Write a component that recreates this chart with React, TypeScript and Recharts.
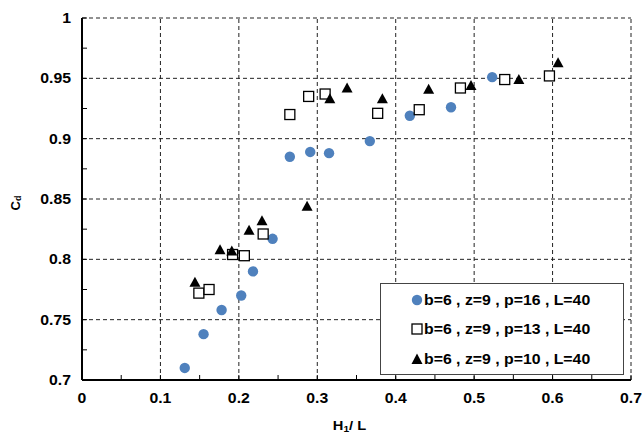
import React from 'react';
import { ScatterChart, Scatter, XAxis, YAxis, ReferenceLine } from 'recharts';

const seriesP16 = [
  { x: 0.131, y: 0.710 }, { x: 0.155, y: 0.738 }, { x: 0.178, y: 0.758 }, { x: 0.203, y: 0.770 },
  { x: 0.218, y: 0.790 }, { x: 0.243, y: 0.817 }, { x: 0.265, y: 0.885 }, { x: 0.291, y: 0.889 },
  { x: 0.315, y: 0.888 }, { x: 0.367, y: 0.898 }, { x: 0.418, y: 0.919 }, { x: 0.4705, y: 0.926 },
  { x: 0.523, y: 0.951 },
];
const seriesP13 = [
  { x: 0.149, y: 0.772 }, { x: 0.162, y: 0.775 }, { x: 0.192, y: 0.804 }, { x: 0.207, y: 0.803 },
  { x: 0.231, y: 0.821 }, { x: 0.265, y: 0.920 }, { x: 0.289, y: 0.935 }, { x: 0.310, y: 0.937 },
  { x: 0.377, y: 0.921 }, { x: 0.430, y: 0.924 }, { x: 0.4825, y: 0.942 }, { x: 0.539, y: 0.949 },
  { x: 0.596, y: 0.952 },
];
const seriesP10 = [
  { x: 0.144, y: 0.781 }, { x: 0.176, y: 0.808 }, { x: 0.191, y: 0.807 }, { x: 0.213, y: 0.824 },
  { x: 0.2295, y: 0.832 }, { x: 0.287, y: 0.844 }, { x: 0.316, y: 0.933 }, { x: 0.338, y: 0.942 },
  { x: 0.383, y: 0.933 }, { x: 0.442, y: 0.941 }, { x: 0.496, y: 0.944 }, { x: 0.557, y: 0.949 },
  { x: 0.607, y: 0.963 },
];

const xTicks = [0, 0.05, 0.1, 0.15, 0.2, 0.25, 0.3, 0.35, 0.4, 0.45, 0.5, 0.55, 0.6, 0.65, 0.7];
const xMajor = [0, 0.1, 0.2, 0.3, 0.4, 0.5, 0.6, 0.7];
const yTicks = [0.7, 0.725, 0.75, 0.775, 0.8, 0.825, 0.85, 0.875, 0.9, 0.925, 0.95, 0.975, 1];
const yMajor = [0.7, 0.75, 0.8, 0.85, 0.9, 0.95, 1];
const xGrid = [0.1, 0.2, 0.3, 0.4, 0.5, 0.6, 0.7];
const yGrid = [0.75, 0.8, 0.85, 0.9, 0.95, 1];

const legendLabels = ['b=6 , z=9 , p=16 , L=40', 'b=6 , z=9 , p=13 , L=40', 'b=6 , z=9 , p=10 , L=40'];

const FONT = '"Liberation Sans", Arial, sans-serif';
const BLUE = '#4F81BD';
const SX = 1.13;

const isMajor = (v: number, list: number[]) => list.some((m) => Math.abs(m - v) < 1e-6);
const fmt = (v: number) => String(Math.round(v * 100) / 100);

const XTick = (props: any) => {
  const { x, y, payload } = props;
  const v = payload.value;
  return (
    <g>
      <line x1={x} x2={x} y1={y} y2={y - 5} stroke="#000" strokeWidth={1} />
      {isMajor(v, xMajor) && (
        <text transform={`translate(${x},${y + 18}) scale(${SX},1)`} textAnchor="middle" dominantBaseline="central"
          fontFamily={FONT} fontWeight="bold" fontSize={14} fill="#000">{fmt(v)}</text>
      )}
    </g>
  );
};

const YTick = (props: any) => {
  const { x, y, payload } = props;
  const v = payload.value;
  return (
    <g>
      <line x1={x} x2={x + 5} y1={y} y2={y} stroke="#000" strokeWidth={1} />
      {isMajor(v, yMajor) && (
        <text transform={`translate(${x - 11},${y}) scale(${SX},1)`} textAnchor="end" dominantBaseline="central"
          fontFamily={FONT} fontWeight="bold" fontSize={14} fill="#000">{fmt(v)}</text>
      )}
    </g>
  );
};

const Circle = (props: any) => <circle cx={props.cx} cy={props.cy} r={5.2} fill={BLUE} />;
const Square = (props: any) => (
  <rect x={props.cx - 5} y={props.cy - 5} width={10} height={10} fill="#fff" stroke="#000" strokeWidth={1.3} />
);
const Tri = (props: any) => (
  <polygon points={`${props.cx},${props.cy - 5.5} ${props.cx - 5.5},${props.cy + 4.5} ${props.cx + 5.5},${props.cy + 4.5}`} fill="#000" />
);

const LegendBox = () => {
  const icons = [
    <svg width={12} height={12}><circle cx={6} cy={6} r={5.2} fill={BLUE} /></svg>,
    <svg width={12} height={12}><rect x={1} y={1} width={10} height={10} fill="#fff" stroke="#000" strokeWidth={1.3} /></svg>,
    <svg width={12} height={12}><polygon points="6,0.5 0.5,11 11.5,11" fill="#000" /></svg>,
  ];
  return (
    <div style={{ position: 'absolute', left: 380, top: 283, width: 244, height: 92, boxSizing: 'border-box',
      border: '1px solid #444', background: '#fff', paddingTop: 1 }}>
      {legendLabels.map((t, i) => (
        <div key={i} style={{ display: 'flex', alignItems: 'center', height: 29.5, paddingLeft: 30 }}>
          {icons[i]}
          <span style={{ display: 'inline-block', transform: `scaleX(${SX})`, transformOrigin: 'left center', marginLeft: 1,
            fontFamily: FONT, fontWeight: 'bold', fontSize: 14, color: '#000', whiteSpace: 'nowrap' }}>{t}</span>
        </div>
      ))}
    </div>
  );
};

const XLabel = (props: any) => {
  const vb = props.viewBox || { x: 82, y: 380, width: 549 };
  const cx = vb.x + vb.width / 2 - 7;
  return (
    <text transform={`translate(${cx},${vb.y + 45}) scale(${SX},1)`} textAnchor="middle" dominantBaseline="central"
      fontFamily={FONT} fontWeight="bold" fontSize={13} fill="#000">
      H<tspan fontSize={9} dy={3}>1</tspan><tspan dy={-3}>/ L</tspan>
    </text>
  );
};

const YLabel = (props: any) => {
  const vb = props.viewBox || { x: 0, y: 18, height: 362 };
  const cy = vb.y + vb.height / 2 + 4;
  return (
    <text transform={`translate(15,${cy}) rotate(-90)`} textAnchor="middle" dominantBaseline="central"
      fontFamily={FONT} fontWeight="bold" fontSize={13} fill="#000">
      C<tspan fontSize={9} dy={3}>d</tspan>
    </text>
  );
};

export default function App() {
  return (
    <div style={{ position: 'absolute', left: 0, top: 0, width: 643, height: 434, background: '#fff' }}>
      <ScatterChart width={643} height={434} margin={{ top: 18, right: 12, left: 0, bottom: 0 }}>
        <XAxis type="number" dataKey="x" domain={[0, 0.7]} ticks={xTicks} interval={0} tick={<XTick />}
          tickLine={false} tickSize={0} tickMargin={0} height={54} axisLine={{ stroke: '#000', strokeWidth: 2 }}
          allowDataOverflow label={<XLabel />} />
        <YAxis type="number" dataKey="y" domain={[0.7, 1]} ticks={yTicks} interval={0} tick={<YTick />}
          tickLine={false} tickSize={0} tickMargin={0} width={82} axisLine={{ stroke: '#000', strokeWidth: 2 }}
          allowDataOverflow label={<YLabel />} />
        {xGrid.map((v) => (
          <ReferenceLine key={'x' + v} x={v} stroke="#222" strokeDasharray="4 3" strokeWidth={1} ifOverflow="visible" />
        ))}
        {yGrid.map((v) => (
          <ReferenceLine key={'y' + v} y={v} stroke="#222" strokeDasharray="4 3" strokeWidth={1} ifOverflow="visible" />
        ))}
        <Scatter name="p16" data={seriesP16} shape={<Circle />} isAnimationActive={false} />
        <Scatter name="p13" data={seriesP13} shape={<Square />} isAnimationActive={false} />
        <Scatter name="p10" data={seriesP10} shape={<Tri />} isAnimationActive={false} />
      </ScatterChart>
      <LegendBox />
    </div>
  );
}
